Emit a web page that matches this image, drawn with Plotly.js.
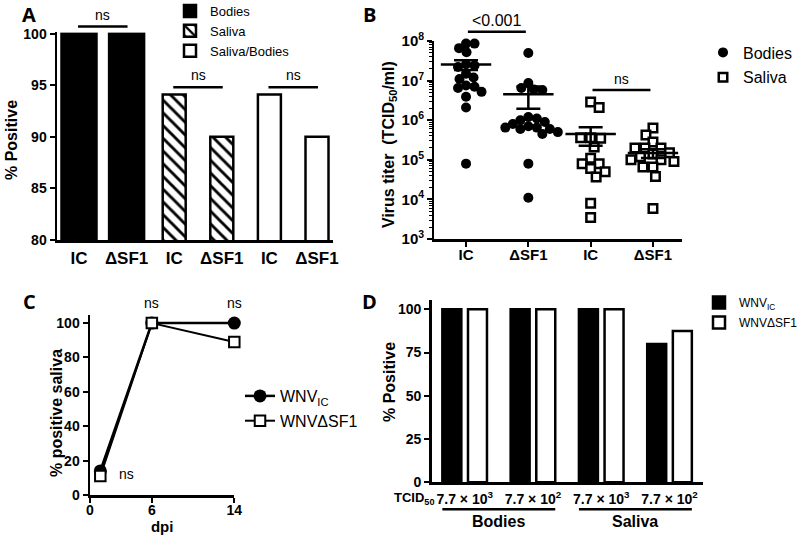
<!DOCTYPE html>
<html><head><meta charset="utf-8">
<script src="https://cdn.plot.ly/plotly-3.0.1.min.js"></script>
<style>
html,body{margin:0;padding:0;background:#fff;overflow:hidden;width:800px;height:548px}
#wrap{position:absolute;left:0;top:0;width:800px;height:548px;overflow:hidden}
#chart{position:absolute;left:0;top:-12px;width:840px;height:560px}
</style>
</head><body><div id="wrap"><div id="chart"></div></div>
<script>
// ---------------- Panel A data ----------------
const aGroups = ["Bodies", "Saliva", "Saliva/Bodies"];
const aStrains = ["IC", "ΔSF1"];
const aBodies = [100, 100];
const aSaliva = [94.1, 90];
const aRatio = [94.1, 90];
const aSig = ["ns", "ns", "ns"];

// ---------------- Panel B data ----------------
const bCats = ["IC", "ΔSF1", "IC", "ΔSF1"];
const bBodiesIC = [8.6e7, 8.6e7, 6.6e7, 5.2e7, 2.6e7, 2.4e7, 2.2e7, 1.5e7, 1.2e7, 1.1e7, 7.5e6, 7.0e6, 6.5e6, 5.2e6, 3.9e6, 2.1e6, 8.0e4];
const bBodiesSF1 = [5.0e7, 8.7e6, 6.5e6, 6.0e6, 5.8e6, 1.2e6, 1.1e6, 1.0e6, 9.0e5, 8.0e5, 7.0e5, 6.5e5, 6.5e5, 6.0e5, 6.0e5, 5.0e5, 4.5e5, 8.0e4, 1.1e4];
const bSalivaIC = [2.9e6, 2.1e6, 3.6e5, 3.6e5, 3.5e5, 2.1e5, 1.1e5, 8.0e4, 8.0e4, 6.0e4, 5.0e4, 3.7e4, 8.0e3, 3.5e3, 1.0e3];
const bSalivaSF1 = [6.4e5, 4.2e5, 2.8e5, 2.0e5, 2.0e5, 2.0e5, 1.5e5, 1.4e5, 1.2e5, 1.0e5, 1.0e5, 9.0e4, 6.6e4, 6.6e4, 3.8e4, 5.9e3, 1.0e3, 1.0e3, 1.0e3];
const bSigLabels = ["<0.001", "ns"];

// ---------------- Panel C data ----------------
const cDpi = [1, 6, 14];
const cIC = [14, 100, 100];
const cSF1 = [11, 100, 89];
const cSig = ["ns", "ns", "ns"];

// ---------------- Panel D data ----------------
const dDoses = ["7.7 × 10<sup>3</sup>", "7.7 × 10<sup>2</sup>", "7.7 × 10<sup>3</sup>", "7.7 × 10<sup>2</sup>"];
const dTissues = ["Bodies", "Saliva"];
const dIC = [100, 100, 100, 80];
const dSF1 = [100, 100, 100, 87.5];

// ---------------- layout helpers ----------------
// The figure is a little larger than the window (extra room above and to the right)
// so legends near the edges never force Plotly to shrink the plot area.
// All positions below are window pixels from the top-left corner.
const W = 840, H = 560, OY = 12;
const px = v => v / W;
const py = v => 1 - (v + OY) / H;
const FONT = "Liberation Sans, Arial, sans-serif";
const BLK = "black";

const dom = {
  A: {x: [57, 333], y: [32.2, 240], xr: [-0.462, 5.336], yr: [80, 100.15]},
  B: {x: [434, 682], y: [41, 239], xr: [-0.514, 3.466], yr: [3, 8]},
  C: {x: [90, 234.3], y: [315, 495], xr: [0, 14], yr: [0, 104.7]},
  D: {x: [431.7, 703], y: [300, 482.3], xr: [-0.483, 3.49], yr: [0, 105.4]}
};
const xd = k => [px(dom[k].x[0]), px(dom[k].x[1])];
const yd = k => [py(dom[k].y[1]), py(dom[k].y[0])];
function paperY(k, v, isLog) {
  const d = dom[k], r = d.yr;
  const t = ((isLog ? Math.log10(v) : v) - r[0]) / (r[1] - r[0]);
  return py(d.y[1] - t * (d.y[1] - d.y[0]));
}

function axis(extra) {
  return Object.assign({
    showline: true, linecolor: BLK, linewidth: 2.5, ticks: "outside", tickcolor: BLK,
    tickwidth: 2, ticklen: 5, showgrid: false, zeroline: false, fixedrange: true,
    tickfont: {family: FONT, size: 14, weight: "bold", color: BLK}
  }, extra);
}

const traces = [];
const ann = [];
const shapes = [];
const sigFont = {family: FONT, size: 14, color: BLK};

// ---------------- Panel A ----------------
const aSeries = [aBodies, aSaliva, aRatio];
const aStyles = [
  {color: BLK, width: 0.735},
  {color: "white", width: 0.483, pattern: {shape: "\\", fgcolor: BLK, bgcolor: "white", size: 9, solidity: 0.32}},
  {color: "white", width: 0.483}
];
aSeries.forEach((vals, g) => {
  const st = aStyles[g];
  const marker = {color: st.color, line: {color: BLK, width: 2.5}};
  if (st.pattern) marker.pattern = st.pattern;
  traces.push({
    type: "bar", xaxis: "x", yaxis: "y", name: aGroups[g], legend: "legend", legendgroup: "a" + g,
    x: vals.map((_, i) => 2 * g + i), y: vals, width: st.width, offset: -st.width / 2,
    marker: marker, hoverinfo: "skip"
  });
  const yl = paperY("A", Math.max(...vals) + 0.7, false);
  shapes.push({type: "line", xref: "x", yref: "paper", x0: 2 * g - 0.02, x1: 2 * g + 1.02, y0: yl, y1: yl,
    line: {color: BLK, width: 2.5}});
  ann.push({text: aSig[g], xref: "x", yref: "paper", x: 2 * g + 0.5, y: yl, yanchor: "bottom", yshift: 2,
    showarrow: false, font: sigFont});
});

// ---------------- Panel B ----------------
const bPxPerUnit = (dom.B.x[1] - dom.B.x[0]) / (dom.B.xr[1] - dom.B.xr[0]);
const bPxPerDec = (dom.B.y[1] - dom.B.y[0]) / (dom.B.yr[1] - dom.B.yr[0]);
// deterministic beeswarm: spread points sideways so markers do not overlap
function swarm(vals, dPx) {
  const ys = vals.map(v => Math.log10(v) * bPxPerDec);
  const order = ys.map((_, i) => i).sort((a, b) => ys[b] - ys[a]);
  const placed = [], off = new Array(vals.length).fill(0);
  for (const i of order) {
    for (let k = 0; k < 400; k++) {
      const cands = k === 0 ? [0] : (k % 2 ? [k * 0.5, -k * 0.5] : [-k * 0.5, k * 0.5]);
      let found = null;
      for (const x of cands) {
        if (placed.every(p => (p.x - x) ** 2 + (p.y - ys[i]) ** 2 >= dPx * dPx)) { found = x; break; }
      }
      if (found !== null) { off[i] = found; placed.push({x: found, y: ys[i]}); break; }
    }
  }
  return off.map(o => o / bPxPerUnit);
}
function meanSem(a) {
  const n = a.length, m = a.reduce((s, v) => s + v, 0) / n;
  const sd = Math.sqrt(a.reduce((s, v) => s + (v - m) ** 2, 0) / (n - 1));
  return [m, sd / Math.sqrt(n)];
}
const bSets = [bBodiesIC, bBodiesSF1, bSalivaIC, bSalivaSF1];
const dotX = [], dotY = [], sqX = [], sqY = [];
bSets.forEach((vals, g) => {
  const isBody = g < 2;
  const offs = swarm(vals, isBody ? 8.3 : 9.8);
  vals.forEach((v, i) => {
    (isBody ? dotX : sqX).push(g + offs[i]);
    (isBody ? dotY : sqY).push(v);
  });
});
traces.push({
  type: "scatter", mode: "markers", xaxis: "x2", yaxis: "y2", name: "Bodies", legend: "legend2", legendgroup: "b0",
  x: dotX, y: dotY, cliponaxis: false, marker: {symbol: "circle", size: 10, color: BLK}, hoverinfo: "skip"
});
traces.push({
  type: "scatter", mode: "markers", xaxis: "x2", yaxis: "y2", name: "Saliva", legend: "legend2", legendgroup: "b1",
  x: sqX, y: sqY, cliponaxis: false,
  marker: {symbol: "square", size: 8.5, color: "white", line: {color: BLK, width: 2.5}}, hoverinfo: "skip"
});
const bStats = bSets.map(meanSem);
traces.push({
  type: "scatter", mode: "markers", xaxis: "x2", yaxis: "y2", showlegend: false, cliponaxis: false,
  x: bSets.map((_, g) => g), y: bStats.map(s => s[0]),
  marker: {symbol: "line-ew", size: 36, color: BLK, line: {color: BLK, width: 2.5}},
  error_y: {type: "data", array: bStats.map(s => s[1]), visible: true, color: BLK, thickness: 2.5, width: 12},
  hoverinfo: "skip"
});
const bPairs = [[0, 1], [2, 3]];
bPairs.forEach((p, k) => {
  const top = Math.max(...bSets[p[0]], ...bSets[p[1]]) * Math.pow(10, 0.3);
  const yl = paperY("B", top, true);
  shapes.push({type: "line", xref: "x2", yref: "paper", x0: p[0] + 0.03, x1: p[1] - 0.04, y0: yl, y1: yl,
    line: {color: BLK, width: 2.5}});
  ann.push({text: bSigLabels[k], xref: "x2", yref: "paper", x: (p[0] + p[1]) / 2 - 0.01, y: yl, yanchor: "bottom", yshift: 1,
    showarrow: false, font: {family: FONT, size: k === 0 ? 16 : 14, color: BLK}});
});

// ---------------- Panel C ----------------
traces.push({
  type: "scatter", mode: "lines+markers", xaxis: "x3", yaxis: "y3", name: "WNV<sub>IC</sub>", legend: "legend3", legendgroup: "c0",
  x: cDpi, y: cIC, cliponaxis: false, line: {color: BLK, width: 2.5},
  marker: {symbol: "circle", size: 13, color: BLK}, hoverinfo: "skip"
});
traces.push({
  type: "scatter", mode: "lines+markers", xaxis: "x3", yaxis: "y3", name: "WNVΔSF1", legend: "legend3", legendgroup: "c1",
  x: cDpi, y: cSF1, cliponaxis: false, line: {color: BLK, width: 2},
  marker: {symbol: "square", size: 10.5, color: "white", line: {color: BLK, width: 2}}, hoverinfo: "skip"
});
cDpi.forEach((d, i) => {
  if (i === 0) {
    ann.push({text: cSig[i], xref: "x3", yref: "y3", x: d, y: (cIC[i] + cSF1[i]) / 2, xshift: 26,
      showarrow: false, font: sigFont});
  } else {
    ann.push({text: cSig[i], xref: "x3", yref: "y3", x: d, y: Math.max(cIC[i], cSF1[i]), yshift: 20,
      showarrow: false, font: sigFont});
  }
});

// ---------------- Panel D ----------------
const dW = 0.278;
const dOff = [-0.327, 0.0485];
[[dIC, BLK, "WNV<sub>IC</sub>"], [dSF1, "white", "WNVΔSF1"]].forEach((s, k) => {
  traces.push({
    type: "bar", xaxis: "x4", yaxis: "y4", name: s[2], legend: "legend4", legendgroup: "d" + k,
    x: s[0].map((_, i) => i), y: s[0], width: dW, offset: dOff[k],
    marker: {color: s[1], line: {color: BLK, width: 2.5}}, hoverinfo: "skip"
  });
});
ann.push({text: "TCID<sub>50</sub>", xref: "paper", yref: "paper", x: px(436), y: py(498), xanchor: "right", yanchor: "middle",
  showarrow: false, font: {family: FONT, size: 13, weight: "bold", color: BLK}});
dTissues.forEach((t, k) => {
  const g0 = 2 * k, g1 = 2 * k + 1;
  shapes.push({type: "line", xref: "x4", yref: "paper", x0: g0 + dOff[0], x1: g1 + dOff[1] + dW,
    y0: py(509.3), y1: py(509.3), line: {color: BLK, width: 2.5}});
  ann.push({text: t, xref: "x4", yref: "paper", x: (g0 + g1) / 2, y: py(521), yanchor: "middle",
    showarrow: false, font: {family: FONT, size: 16, weight: "bold", color: BLK}});
});

// panel letters
const letter = (t, x, y) => ann.push({text: t, xref: "paper", yref: "paper", x: px(x), y: py(y),
  xanchor: "center", yanchor: "middle", showarrow: false, font: {family: "Open Sans, sans-serif", size: 20, weight: "bold", color: BLK}});
letter("A", 29, 14); letter("B", 369, 14); letter("C", 29, 301); letter("D", 369, 301);

// y-axis titles as rotated text
const titleFont = {family: FONT, size: 16, weight: "bold", color: BLK};
const yTitle = (t, x, y) => ann.push({text: t, xref: "paper", yref: "paper", x: px(x), y: py(y), textangle: -90,
  xanchor: "center", yanchor: "middle", showarrow: false, font: titleFont});
yTitle("% Positive", 12, 140);
yTitle("Virus titer  (TCID<sub>50</sub>/ml)", 389, 145);
yTitle("% positive saliva", 56, 413);
yTitle("% Positive", 389, 382);

const legendBase = {bgcolor: "rgba(0,0,0,0)", xanchor: "left", yanchor: "top", traceorder: "grouped"};

const layout = {
  width: W, height: H, margin: {l: 0, r: 0, t: 0, b: 0},
  paper_bgcolor: "white", plot_bgcolor: "white",
  font: {family: FONT, color: BLK},
  barmode: "overlay", hovermode: false,
  xaxis: axis({domain: xd("A"), range: dom.A.xr, anchor: "y", ticks: "",
    tickvals: [0, 1, 2, 3, 4, 5], ticktext: aGroups.flatMap(() => aStrains), ticklabelstandoff: 1,
    tickfont: {family: FONT, size: 17, weight: "bold", color: BLK}}),
  yaxis: axis({domain: yd("A"), range: dom.A.yr, anchor: "x", tick0: 80, dtick: 5}),
  xaxis2: axis({domain: xd("B"), range: dom.B.xr, anchor: "y2", tickvals: [0, 1, 2, 3], ticktext: bCats,
    ticklabelstandoff: -5, tickfont: {family: FONT, size: 15, weight: "bold", color: BLK}}),
  yaxis2: axis({domain: yd("B"), range: dom.B.yr, type: "log", anchor: "x2", dtick: 1, exponentformat: "power",
    tickfont: {family: FONT, size: 12, weight: "bold", color: BLK},
    minor: {ticks: "outside", ticklen: 3, tickwidth: 1, tickcolor: BLK, dtick: "D1"}}),
  xaxis3: axis({domain: xd("C"), range: dom.C.xr, anchor: "y3", tickvals: [0, 6, 14], ticklabelstandoff: -4,
    title: {text: "dpi", font: {family: FONT, size: 15, weight: "bold", color: BLK}, standoff: 4}}),
  yaxis3: axis({domain: yd("C"), range: dom.C.yr, anchor: "x3", dtick: 20}),
  xaxis4: axis({domain: xd("D"), range: dom.D.xr, anchor: "y4", ticks: "", tickvals: [0, 1, 2, 3], ticktext: dDoses,
    ticklabelstandoff: 2}),
  yaxis4: axis({domain: yd("D"), range: dom.D.yr, anchor: "x4", dtick: 25}),
  legend: Object.assign({}, legendBase, {x: px(170), y: py(-4), tracegroupgap: 0, font: {family: FONT, size: 13, color: BLK}}),
  legend2: Object.assign({}, legendBase, {x: px(703), y: py(35.5), tracegroupgap: 1, font: {family: FONT, size: 16, color: BLK}}),
  legend3: Object.assign({}, legendBase, {x: px(240), y: py(379), tracegroupgap: 1, font: {family: FONT, size: 16, color: BLK}}),
  legend4: Object.assign({}, legendBase, {x: px(699), y: py(288), tracegroupgap: 1, font: {family: FONT, size: 12, color: BLK}}),
  annotations: ann,
  shapes: shapes
};

Plotly.newPlot("chart", traces, layout, {displayModeBar: false, staticPlot: true});
</script>
</body></html>
